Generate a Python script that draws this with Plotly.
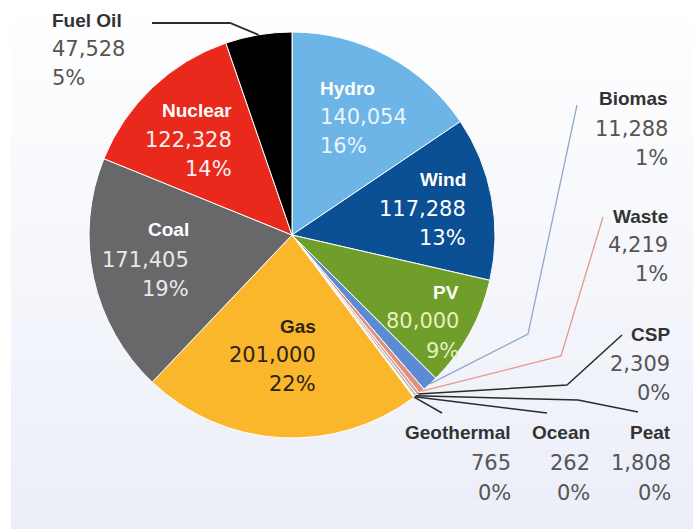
import math
import plotly.graph_objects as go

# Electricity generation by source (GWh), listed clockwise from 12 o'clock
names = ["Hydro", "Wind", "PV", "Biomas", "Waste", "CSP", "Peat", "Ocean",
         "Geothermal", "Gas", "Coal", "Nuclear", "Fuel Oil"]
values = [140054, 117288, 80000, 11288, 4219, 2309, 1808, 262,
          765, 201000, 171405, 122328, 47528]
pct_labels = ["16%", "13%", "9%", "1%", "1%", "0%", "0%", "0%",
              "0%", "22%", "19%", "14%", "5%"]
colors = ["#6cb5e6", "#0b4f94", "#6f9e2b", "#5b8bd2", "#e0907e", "#d9a59c",
          "#b8b8b8", "#8a8a8a", "#f4f4f4", "#fbb72c", "#68686b", "#e8291c",
          "#000000"]

W, H = 693, 529
CX, CY, R = 292, 235, 203          # pie centre and radius in pixels


def fx(px):
    return px / W


def fy(py):
    return 1 - py / H


total = sum(values)


def edge_point(name):
    """Pixel point on the pie rim at the middle of a slice."""
    i = names.index(name)
    mid = sum(values[:i]) + values[i] / 2
    a = 2 * math.pi * mid / total
    return CX + R * math.sin(a), CY - R * math.cos(a)


fig = go.Figure()
fig.add_trace(go.Pie(
    labels=names, values=values, sort=False, direction="clockwise",
    rotation=0, textinfo="none", hoverinfo="label+value+percent",
    marker=dict(colors=colors, line=dict(color="white", width=1)),
    domain=dict(x=[fx(CX - R), fx(CX + R)], y=[fy(CY + R), fy(CY - R)]),
    showlegend=False,
))

shapes = []

# soft vertical background wash
bands = 60
top, bot = (255, 255, 255), (235, 238, 248)
for k in range(bands):
    t = (k + 0.5) / bands
    c = tuple(round(top[j] + (bot[j] - top[j]) * t) for j in range(3))
    shapes.append(dict(
        type="rect", xref="paper", yref="paper", layer="below",
        x0=fx(11), x1=1, y0=fy(H * (k + 1) / bands), y1=fy(H * k / bands),
        fillcolor="rgb(%d,%d,%d)" % c, line=dict(width=0),
    ))

# leader lines from the rim out to the outside labels
leaders = {
    "Fuel Oil": ([(230, 23), (152, 23)], "#2b2b2b", 1.8),
    "Biomas": ([(528, 334), (577, 105)], "#93a8cc", 1.3),
    "Waste": ([(561, 356), (603, 217)], "#e8978a", 1.3),
    "CSP": ([(567, 385), (622, 335)], "#2b2b2b", 1.5),
    "Peat": ([(578, 400), (638, 412)], "#2b2b2b", 1.5),
    "Ocean": ([(547, 413)], "#2b2b2b", 1.5),
    "Geothermal": ([(442, 413)], "#2b2b2b", 1.5),
}
for name, (pts, col, lw) in leaders.items():
    x0, y0 = edge_point(name)
    path = "M %f %f" % (fx(x0), fy(y0))
    for (px, py) in pts:
        path += " L %f %f" % (fx(px), fy(py))
    shapes.append(dict(type="path", xref="paper", yref="paper", path=path,
                       line=dict(color=col, width=lw)))

LABEL_FONT = "Liberation Sans, Arial, sans-serif"
NUM_FONT = "DejaVu Sans, sans-serif"

# label blocks: x, line centres, anchor, name colour, number colour
blocks = {
    "Hydro": (318, [88, 117, 146], "left", "#ffffff", "#eaf4fb"),
    "Wind": (468, [179, 209, 238], "right", "#ffffff", "#ffffff"),
    "PV": (461, [292, 321, 351], "right", "#ffffff", "#e6f0bf"),
    "Gas": (318, [326, 355, 384], "right", "#2a2415", "#2a2415"),
    "Coal": (191, [229, 260, 289], "right", "#ffffff", "#e8e8e8"),
    "Nuclear": (234, [110, 140, 169], "right", "#ffffff", "#fdeeee"),
    "Fuel Oil": (50, [20, 49, 78], "left", "#333333", "#555555"),
    "Biomas": (670, [98, 129, 158], "right", "#333333", "#555555"),
    "Waste": (670, [217, 245, 274], "right", "#333333", "#555555"),
    "CSP": (672, [334, 364, 393], "right", "#333333", "#555555"),
    "Geothermal": (513, [432, 463, 493], "right", "#333333", "#555555"),
    "Ocean": (592, [432, 463, 493], "right", "#333333", "#555555"),
    "Peat": (673, [432, 463, 493], "right", "#333333", "#555555"),
}

annotations = []
for name, (x, ys, anchor, c_name, c_num) in blocks.items():
    i = names.index(name)
    lines = [
        ("<b>%s</b>" % name, LABEL_FONT, 19, c_name),
        ("{:,}".format(values[i]), NUM_FONT, 21, c_num),
        (pct_labels[i], NUM_FONT, 21, c_num),
    ]
    for (txt, fam, size, col), y in zip(lines, ys):
        annotations.append(dict(
            text=txt, x=fx(x), y=fy(y), xref="paper", yref="paper",
            xanchor=anchor, yanchor="middle", showarrow=False,
            font=dict(family=fam, size=size, color=col),
        ))

fig.update_layout(
    width=W, height=H, margin=dict(l=0, r=0, t=0, b=0),
    paper_bgcolor="white", plot_bgcolor="white",
    shapes=shapes, annotations=annotations,
)

fig.write_html("out.html")
